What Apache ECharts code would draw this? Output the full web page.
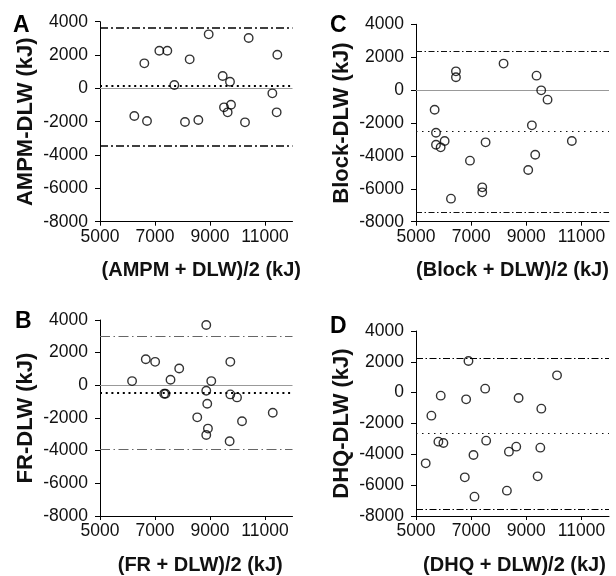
<!DOCTYPE html>
<html><head><meta charset="utf-8">
<script src="https://cdn.jsdelivr.net/npm/echarts@6/dist/echarts.min.js"></script>
<style>html,body{margin:0;padding:0;background:#fff}#c{width:616px;height:576px}</style>
</head><body><div id="c"></div>
<script>
// tick labels
const xTicks = [5000, 7000, 9000, 11000];
const yTicks = [-8000, -6000, -4000, -2000, 0, 2000, 4000];

// Panel A: AMPM vs DLW
const aX = [6248, 6612, 6709, 7158, 7448, 7703, 8091, 8261, 8576, 8952, 9461, 9509, 9642, 9727, 9764, 10273, 10406, 11267, 11424, 11448];
const aY = [-1660, 1500, -1960, 2260, 2260, 200, -2020, 1740, -1900, 3240, 740, -1140, -1440, 400, -980, -2040, 3020, -300, -1440, 2020];
const aRef = [3640, 140, -3440]; // upper limit, mean bias, lower limit

// Panel B: FR vs DLW
const bX = [6166, 6665, 7005, 7333, 7382, 7564, 7880, 8536, 8864, 8864, 8900, 8925, 8864, 9046, 9714, 9739, 9739, 9982, 10164, 11282];
const bY = [258, 1600, 1437, -515, -515, 339, 1031, -1959, 3695, -332, -1125, -2650, -3037, 258, -3423, 1437, -556, -739, -2203, -1674];
const bRef = [2983, -434, -3932];

// Panel C: Block vs DLW
const cX = [5676, 5725, 5725, 5894, 6039, 6268, 6449, 6449, 6957, 7403, 7403, 7524, 8176, 9070, 9203, 9324, 9372, 9541, 9771, 10652];
const cY = [-1190, -2590, -3320, -3480, -3095, -6600, 1140, 780, -4290, -5913, -6217, -3176, 1610, -4858, -2142, -3926, 878, -14, -581, -3095];
const cRef = [2338, -2527, -7433];

// Panel D: DHQ vs DLW
const dX = [5352, 5558, 5812, 5897, 5994, 6770, 6818, 6903, 7085, 7121, 7509, 7545, 8297, 8370, 8636, 8721, 9412, 9509, 9545, 10115];
const dY = [-4584, -1492, -3178, -195, -3265, -5492, -432, 2054, -4043, -6746, 259, -3114, -6357, -3827, -3503, -346, -5427, -3568, -1038, 1124];
const dRef = [2205, -2659, -7568];

const letters = ['A', 'B', 'C', 'D'];
const xNames = ['(AMPM + DLW)/2 (kJ)', '(FR + DLW)/2 (kJ)', '(Block + DLW)/2 (kJ)', '(DHQ + DLW)/2 (kJ)'];
const yNames = ['AMPM-DLW (kJ)', 'FR-DLW (kJ)', 'Block-DLW (kJ)', 'DHQ-DLW (kJ)'];

const FONT = 'Liberation Sans, Arial, sans-serif';

const panels = [
  {xs: aX, ys: aY, ref: aRef, zero: true, namePad: [0, 0, 0, 10],
   grid: {left: 100, top: 21.7, width: 192.5, height: 200},
   dashdot: {type: [8, 3, 2, 3], width: 1.5, color: '#000'},
   dot: {type: [2, 3.7], width: 2.2, color: '#000'}},
  {xs: bX, ys: bY, ref: bRef, zero: true, namePad: [0, 0, 0, 8],
   grid: {left: 100, top: 320, width: 192.5, height: 196.7},
   dashdot: {type: [10, 3.5, 1.5, 3.5], width: 1.2, color: '#666'},
   dot: {type: [2, 3.7], width: 2.2, color: '#000'}},
  {xs: cX, ys: cY, ref: cRef, zero: true, namePad: [0, 0, 0, 0],
   grid: {left: 416, top: 24.3, width: 193, height: 197.4},
   dashdot: {type: [6, 2.5, 1.5, 2.5], width: 1, color: '#111'},
   dot: {type: [1.5, 4.5], width: 1.2, color: '#111'}},
  {xs: dX, ys: dY, ref: dRef, zero: false, namePad: [0, 0, 0, 4],
   grid: {left: 416, top: 331, width: 193, height: 185},
   dashdot: {type: [7, 2.5, 1.5, 2.5], width: 1.2, color: '#000'},
   dot: {type: [1.5, 4.5], width: 1.2, color: '#111'}}
];

const option = {
  animation: false,
  backgroundColor: '#fff',
  grid: [], xAxis: [], yAxis: [], series: [],
  graphic: []
};

const letterPos = [[13, 17], [15, 313], [330, 17], [330, 318]];
const plain = v => String(v);

panels.forEach((p, i) => {
  option.grid.push(Object.assign({containLabel: false}, p.grid));
  option.xAxis.push({
    type: 'value', gridIndex: i, min: 5000, max: 12000, interval: 1000,
    splitLine: {show: false},
    axisLine: {onZero: false, lineStyle: {color: '#000', width: 1}},
    axisTick: {show: true, length: 4, customValues: xTicks, lineStyle: {color: '#000'}},
    axisLabel: {customValues: xTicks, formatter: plain, color: '#111', fontSize: 17.5, fontFamily: FONT, margin: 6},
    name: xNames[i], nameLocation: 'middle', nameGap: 39,
    nameTextStyle: {fontSize: 20, fontWeight: 'bold', color: '#111', fontFamily: FONT, padding: p.namePad}
  });
  option.yAxis.push({
    type: 'value', gridIndex: i, min: -8000, max: 4000, interval: 2000,
    splitLine: {show: false},
    axisLine: {show: true, onZero: false, lineStyle: {color: '#000', width: 1}},
    axisTick: {show: true, length: 5, customValues: yTicks, lineStyle: {color: '#000'}},
    axisLabel: {customValues: yTicks, formatter: plain, color: '#111', fontSize: 17.5, fontFamily: FONT, margin: 12},
    name: yNames[i], nameLocation: 'middle', nameGap: 63,
    nameTextStyle: {fontSize: 22, fontWeight: 'bold', color: '#111', fontFamily: FONT}
  });
  const mlData = [];
  if (p.zero) mlData.push({yAxis: 0, lineStyle: {type: 'solid', width: 1.2, color: '#999'}});
  mlData.push({yAxis: p.ref[0], lineStyle: p.dashdot});
  mlData.push({yAxis: p.ref[1], lineStyle: p.dot});
  mlData.push({yAxis: p.ref[2], lineStyle: p.dashdot});
  option.series.push({
    type: 'scatter', xAxisIndex: i, yAxisIndex: i,
    data: p.xs.map((x, k) => [x, p.ys[k]]),
    symbol: 'circle', symbolSize: 8.5,
    itemStyle: {color: 'rgba(255,255,255,0)', borderColor: '#000', borderWidth: 1.4},
    silent: true, z: 5,
    markLine: {silent: true, symbol: 'none', label: {show: false}, data: mlData, z: 2}
  });
  option.graphic.push({
    type: 'text', left: letterPos[i][0], top: letterPos[i][1] - 3,
    style: {text: letters[i], font: 'bold 23px ' + FONT, fill: '#000'}
  });
});

const chart = echarts.init(document.getElementById('c'), null, {renderer: 'canvas'});
chart.setOption(option);
</script>
</body></html>
